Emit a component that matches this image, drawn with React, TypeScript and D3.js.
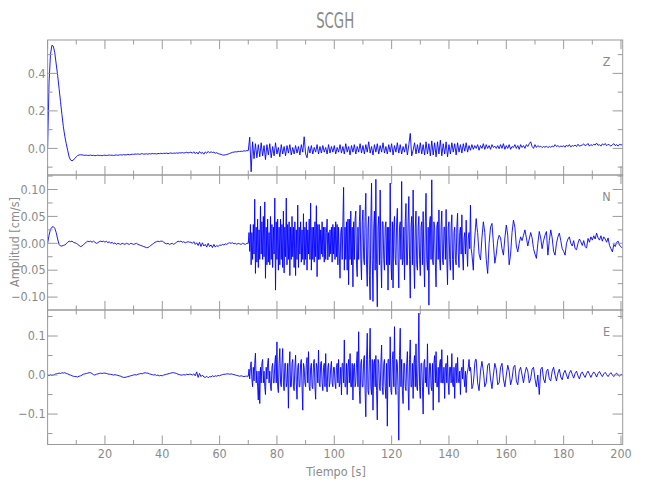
import React from 'react';
import * as d3 from 'd3';

// ---- Data (cm/s). Each trace is stored in segments with their own start time and sample step ----
const STATION = 'SCGH';
const X_LABEL = 'Tiempo [s]';
const Y_LABEL = 'Amplitud [cm/s]';

// Z: 0–69.5 s (step 0.5)
const zPre = [
  0.0, 0.35, 0.5, 0.55, 0.545, 0.51, 0.45, 0.39, 0.32, 0.25,
  0.18, 0.115, 0.065, 0.025, -0.01, -0.045, -0.062, -0.066, -0.062, -0.053,
  -0.045, -0.038, -0.035, -0.034, -0.035, -0.036, -0.037, -0.036, -0.038, -0.037,
  -0.036, -0.038, -0.037, -0.039, -0.038, -0.036, -0.038, -0.037, -0.039, -0.037,
  -0.036, -0.038, -0.037, -0.035, -0.037, -0.036, -0.038, -0.036, -0.035, -0.037,
  -0.035, -0.034, -0.036, -0.033, -0.035, -0.034, -0.032, -0.034, -0.033, -0.031,
  -0.032, -0.03, -0.031, -0.029, -0.032, -0.03, -0.028, -0.031, -0.03, -0.029,
  -0.031, -0.028, -0.03, -0.027, -0.029, -0.028, -0.03, -0.027, -0.028, -0.026,
  -0.028, -0.026, -0.027, -0.025, -0.028, -0.026, -0.024, -0.027, -0.025, -0.026,
  -0.024, -0.026, -0.023, -0.025, -0.022, -0.025, -0.023, -0.021, -0.024, -0.022,
  -0.02, -0.026, -0.018, -0.028, -0.02, -0.03, -0.017, -0.027, -0.021, -0.031,
  -0.019, -0.026, -0.016, -0.024, -0.018, -0.022, -0.02, -0.026, -0.023, -0.028,
  -0.03, -0.032, -0.035, -0.036, -0.034, -0.033, -0.03, -0.027, -0.024, -0.021,
  -0.02, -0.018, -0.019, -0.016, -0.017, -0.015, -0.016, -0.013, -0.014, -0.012,
];
// Z: 70–200.5 s (step 0.5)
const zPost = [
  -0.012, 0.06, -0.125, 0.035, -0.055, 0.025, -0.05, 0.02, -0.045, 0.03,
  -0.04, 0.015, -0.06, 0.02, -0.035, 0.025, -0.05, 0.01, -0.04, 0.03,
  -0.03, 0.005, -0.045, 0.02, -0.03, 0.01, -0.04, 0.015, -0.025, 0.02,
  -0.035, 0.005, -0.03, 0.015, -0.025, 0.01, -0.035, 0.02, -0.02, 0.062,
  -0.03, -0.05, 0.01, -0.025, 0.015, -0.03, 0.005, -0.02, 0.02, -0.03,
  0.01, -0.025, 0.015, -0.02, 0.005, -0.03, 0.02, -0.025, 0.01, -0.02,
  0.015, -0.03, 0.005, -0.02, 0.02, -0.025, 0.01, -0.03, 0.025, -0.02,
  0.01, -0.035, 0.015, -0.02, 0.02, -0.03, 0.01, -0.02, 0.025, -0.025,
  0.015, -0.03, 0.02, -0.02, 0.035, -0.025, 0.01, -0.035, 0.02, -0.02,
  0.025, -0.03, 0.015, -0.02, 0.03, -0.025, 0.01, -0.03, 0.02, -0.02,
  0.025, -0.035, 0.015, -0.02, 0.03, -0.025, 0.02, -0.03, 0.01, -0.02,
  0.025, -0.035, 0.02, 0.08, -0.04, -0.01, 0.03, -0.03, 0.02, -0.025,
  0.03, -0.03, 0.02, -0.035, 0.035, -0.03, 0.025, -0.04, 0.04, -0.035,
  0.03, -0.045, 0.035, -0.03, 0.044, -0.04, 0.025, -0.03, 0.035, -0.045,
  0.02, -0.03, 0.03, -0.02, 0.025, -0.035, 0.03, -0.02, 0.02, -0.025,
  0.025, -0.015, 0.03, -0.02, 0.015, -0.01, 0.02, -0.005, 0.015, 0.0,
  0.02, -0.01, 0.015, 0.0, 0.025, -0.005, 0.02, 0.0, 0.015, -0.005,
  0.02, 0.005, 0.012, 0.0, 0.015, -0.002, 0.02, 0.0, 0.025, -0.005,
  0.015, 0.0, 0.02, -0.005, 0.01, 0.005, 0.02, 0.0, 0.015, -0.005,
  0.02, 0.005, 0.015, 0.0, 0.02, 0.01, 0.025, 0.035, 0.01, 0.0,
  0.02, 0.005, 0.015, 0.008, 0.012, 0.004, 0.01, 0.006, 0.012, 0.004,
  0.01, 0.006, 0.012, 0.008, 0.02, 0.01, 0.015, 0.008, 0.012, 0.01,
  0.014, 0.006, 0.018, 0.01, 0.02, 0.008, 0.015, 0.012, 0.018, 0.01,
  0.022, 0.012, 0.015, 0.018, 0.024, 0.014, 0.018, 0.026, 0.012, 0.02,
  0.015, 0.022, 0.018, 0.028, 0.016, 0.02, 0.012, 0.024, 0.018, 0.026,
  0.014, 0.022, 0.018, 0.012, 0.02, 0.025, 0.015, 0.02, 0.012, 0.022,
  0.018, 0.02,
];

// N: 0–69.5 s (step 0.5)
const nPre = [
  0.0, 0.015, 0.026, 0.03, 0.031, 0.028, 0.02, 0.008, -0.002, -0.005,
  -0.005, -0.004, -0.003, -0.001, 0.002, 0.004, 0.003, 0.004, 0.002, 0.001,
  0.0, -0.002, -0.004, -0.006, -0.005, -0.003, 0.0, 0.002, 0.004, 0.003,
  0.004, 0.002, 0.004, 0.002, 0.0, 0.001, 0.003, 0.004, 0.003, 0.004,
  0.002, 0.004, 0.001, 0.003, 0.0, 0.002, -0.001, 0.001, -0.002, 0.0,
  -0.001, -0.002, 0.0, -0.001, -0.002, 0.0, -0.001, -0.002, 0.0, -0.001,
  -0.002, -0.001, 0.0, -0.002, -0.003, -0.004, -0.005, -0.006, -0.007, -0.008,
  -0.008, -0.006, -0.004, -0.002, 0.0, 0.002, 0.003, 0.004, 0.003, 0.004,
  0.004, 0.002, 0.0, -0.001, 0.0, -0.002, -0.001, 0.0, -0.002, 0.0,
  0.002, 0.004, 0.003, 0.004, 0.002, 0.003, 0.001, 0.002, 0.003, 0.002,
  0.002, 0.0, 0.003, -0.002, 0.001, -0.004, 0.002, -0.006, 0.001, -0.005,
  -0.002, -0.007, 0.0, -0.006, -0.003, -0.008, -0.002, -0.007, -0.004, -0.006,
  -0.003, -0.004, -0.002, -0.003, -0.001, -0.002, 0.0, 0.001, 0.0, 0.001,
  -0.001, 0.0, -0.002, 0.0, -0.001, -0.002, 0.0, -0.001, -0.002, 0.0,
];
// N: 70–149.75 s (step 0.25)
const nStrong = [
  0.0, 0.02, -0.015, 0.035, -0.04, 0.02, -0.03, 0.035, -0.02, 0.082,
  -0.056, 0.03, -0.035, 0.045, -0.045, 0.025, -0.03, 0.069, -0.02, 0.04,
  -0.03, 0.05, -0.025, 0.077, -0.065, 0.03, -0.04, 0.045, -0.035, 0.02,
  -0.04, 0.05, -0.03, 0.035, -0.045, 0.03, -0.02, 0.084, -0.087, 0.04,
  -0.03, 0.045, -0.05, 0.03, -0.04, 0.045, -0.03, 0.035, -0.045, 0.06,
  -0.055, 0.03, -0.025, 0.084, -0.04, 0.035, -0.03, 0.04, -0.06, 0.03,
  -0.03, 0.05, -0.025, 0.03, -0.045, 0.04, -0.06, 0.025, -0.03, 0.071,
  -0.045, 0.03, -0.02, 0.04, -0.035, 0.025, -0.03, 0.055, -0.04, 0.03,
  -0.03, 0.04, -0.05, 0.025, -0.02, 0.045, -0.03, 0.075, -0.05, 0.03,
  -0.03, 0.03, -0.035, 0.04, -0.025, 0.07, -0.062, 0.035, -0.03, 0.035,
  -0.03, 0.025, -0.02, 0.04, -0.025, 0.03, -0.035, 0.03, -0.03, 0.02,
  0.045, -0.031, 0.02, -0.025, 0.025, -0.02, 0.03, -0.035, 0.035, -0.02,
  0.03, -0.03, 0.04, -0.025, 0.035, -0.04, 0.03, -0.02, -0.065, 0.02,
  0.03, -0.03, 0.04, 0.104, -0.05, 0.03, -0.03, 0.04, -0.05, 0.045,
  -0.077, 0.045, -0.03, 0.06, -0.04, 0.03, -0.081, 0.04, -0.03, 0.045,
  0.06, -0.04, -0.062, 0.03, -0.03, 0.04, 0.071, -0.03, -0.068, 0.04,
  0.062, -0.03, -0.04, 0.05, 0.093, -0.04, -0.08, 0.03, 0.05, -0.06,
  -0.105, 0.04, 0.112, -0.03, -0.108, 0.03, 0.06, -0.05, 0.119, -0.04,
  -0.118, 0.03, 0.05, -0.04, 0.099, -0.03, -0.083, 0.04, 0.04, -0.03,
  -0.05, 0.03, 0.04, -0.04, 0.03, -0.087, 0.03, -0.04, 0.112, -0.03,
  -0.068, 0.04, -0.083, 0.03, 0.05, -0.03, -0.04, 0.04, 0.065, -0.03,
  -0.083, 0.03, 0.04, -0.03, 0.115, -0.04, -0.03, 0.03, -0.068, 0.04,
  0.074, -0.04, -0.04, 0.04, 0.087, -0.03, -0.102, 0.03, 0.05, -0.04,
  0.099, -0.03, -0.084, 0.03, 0.06, -0.04, -0.05, 0.03, 0.05, -0.03,
  -0.06, 0.03, 0.04, -0.04, 0.059, -0.03, -0.081, 0.04, 0.093, -0.03,
  -0.05, 0.03, -0.115, 0.04, 0.05, -0.03, 0.118, -0.03, -0.04, 0.04,
  0.03, -0.04, -0.081, 0.03, 0.04, -0.03, 0.062, -0.03, -0.05, 0.03,
  0.06, -0.03, -0.04, 0.03, 0.03, -0.03, 0.063, -0.03, -0.077, 0.03,
  0.04, -0.03, -0.05, 0.03, 0.053, -0.03, -0.068, 0.02, 0.03, -0.03,
  -0.04, 0.03, 0.056, -0.02, -0.045, 0.02, 0.03, -0.02, 0.053, -0.02,
  -0.05, 0.01, 0.02, -0.02, 0.043, -0.01, -0.043, 0.01, 0.02, -0.01,
  0.071, -0.01, -0.02, -0.035, -0.05, -0.01, 0.01, 0.03, 0.046, 0.03,
];
// N: 150–200.5 s (step 0.5)
const nCoda = [
  0.02, -0.02, -0.031, 0.01, 0.04, 0.02, -0.03, -0.056, 0.0, 0.03,
  0.037, 0.0, -0.037, -0.02, 0.005, 0.015, 0.01, -0.01, -0.022, 0.01,
  0.034, 0.015, -0.04, -0.02, 0.02, 0.043, 0.03, -0.005, -0.016, 0.0,
  0.012, 0.005, 0.015, 0.025, 0.01, -0.005, 0.008, 0.02, 0.01, -0.01,
  -0.02, -0.028, 0.0, 0.022, 0.01, -0.01, 0.005, 0.015, 0.022, -0.022,
  0.005, 0.025, 0.01, -0.015, -0.022, 0.0, 0.012, 0.019, 0.005, -0.01,
  -0.015, -0.022, 0.0, 0.008, 0.012, 0.0, -0.005, 0.005, -0.01, -0.012,
  0.0, 0.008, 0.003, -0.004, 0.005, -0.006, -0.009, 0.009, 0.002, 0.012,
  0.006, 0.014, 0.008, 0.019, 0.01, 0.006, 0.014, 0.004, 0.012, 0.008,
  0.002, 0.01, -0.004, -0.01, -0.016, -0.002, -0.006, 0.002, 0.004, -0.004,
  -0.006, -0.009,
];

// E: 0–69.5 s (step 0.5)
const ePre = [
  0.0, -0.002, 0.001, -0.001, 0.0, 0.002, 0.003, 0.004, 0.005, 0.004,
  0.006, 0.005, 0.006, 0.004, 0.003, 0.001, 0.0, -0.002, -0.003, -0.004,
  -0.004, -0.005, -0.003, -0.002, 0.0, 0.002, 0.003, 0.004, 0.005, 0.006,
  0.006, 0.004, 0.001, 0.0, 0.002, 0.003, 0.004, 0.005, 0.004, 0.005,
  0.005, 0.004, 0.003, 0.002, 0.002, 0.001, 0.0, 0.001, 0.0, -0.001,
  -0.002, -0.003, -0.005, -0.006, -0.006, -0.005, -0.004, -0.003, -0.002, -0.001,
  0.0, 0.001, 0.0, 0.002, 0.003, 0.004, 0.003, 0.005, 0.006, 0.005,
  0.005, 0.003, 0.002, 0.001, 0.0, 0.001, -0.001, 0.0, -0.002, -0.001,
  -0.002, 0.0, 0.001, 0.002, 0.003, 0.004, 0.005, 0.006, 0.006, 0.005,
  0.004, 0.002, 0.001, 0.0, 0.0, 0.001, 0.0, 0.002, 0.001, 0.002,
  0.002, 0.0, 0.003, -0.002, 0.008, -0.006, 0.004, -0.004, 0.0, -0.005,
  -0.006, -0.003, -0.007, -0.004, -0.005, -0.002, -0.004, -0.002, -0.003, -0.001,
  -0.002, 0.0, 0.001, 0.002, 0.002, 0.003, 0.003, 0.002, 0.003, 0.002,
  0.001, 0.0, -0.001, -0.002, -0.003, -0.002, -0.003, -0.004, -0.003, -0.003,
];
// E: 70–149.75 s (step 0.25)
const eStrong = [
  -0.003, 0.015, -0.01, 0.02, 0.034, -0.01, -0.03, 0.02, -0.015, 0.03,
  0.056, -0.02, 0.01, -0.03, -0.064, 0.01, -0.073, 0.02, -0.02, 0.03,
  0.04, -0.02, 0.01, -0.03, -0.05, 0.02, -0.01, 0.03, 0.043, -0.02,
  0.01, -0.03, -0.04, 0.02, 0.03, -0.02, -0.02, 0.03, 0.05, -0.02,
  0.085, -0.03, -0.045, 0.03, 0.068, -0.02, -0.03, 0.03, 0.068, -0.02,
  -0.04, 0.03, 0.03, -0.03, -0.02, 0.03, -0.085, 0.02, 0.06, -0.03,
  -0.03, 0.03, 0.04, -0.03, -0.04, 0.02, 0.051, -0.02, -0.062, 0.02,
  0.03, -0.03, -0.03, 0.03, 0.04, -0.03, -0.09, 0.03, 0.02, -0.02,
  -0.03, 0.03, 0.045, -0.02, 0.06, -0.03, -0.04, 0.02, 0.03, -0.03,
  -0.035, 0.03, 0.04, -0.03, -0.062, 0.03, 0.02, -0.02, 0.064, -0.02,
  -0.03, 0.03, 0.035, -0.02, -0.04, 0.02, 0.03, -0.03, 0.055, -0.02,
  -0.043, 0.02, 0.03, -0.03, -0.02, 0.02, 0.035, -0.02, -0.03, 0.02,
  0.02, -0.02, -0.035, 0.02, 0.03, -0.02, 0.04, -0.03, -0.02, 0.02,
  -0.051, 0.03, 0.03, -0.02, 0.09, -0.03, -0.03, 0.03, -0.05, 0.02,
  0.04, -0.02, 0.055, -0.03, -0.03, 0.03, -0.064, 0.02, 0.03, -0.03,
  -0.02, 0.03, 0.06, -0.03, 0.111, -0.04, -0.073, 0.03, 0.04, -0.03,
  -0.03, 0.04, 0.05, -0.04, -0.107, 0.04, 0.107, -0.04, -0.05, 0.04,
  0.12, -0.03, -0.05, 0.04, -0.09, 0.03, 0.04, -0.03, 0.05, -0.04,
  -0.115, 0.04, 0.03, -0.03, -0.04, 0.03, 0.077, -0.03, -0.05, 0.03,
  0.04, -0.03, -0.06, 0.03, -0.131, 0.04, 0.04, -0.03, 0.098, -0.04,
  -0.05, 0.04, 0.06, -0.03, 0.124, -0.03, -0.05, 0.04, 0.03, -0.04,
  -0.167, 0.05, 0.12, -0.03, 0.04, -0.04, -0.073, 0.03, 0.03, -0.03,
  -0.04, 0.03, 0.06, -0.03, -0.09, 0.04, 0.09, -0.03, -0.03, 0.03,
  -0.06, 0.03, 0.05, -0.03, 0.08, -0.03, -0.04, 0.03, 0.159, -0.03,
  -0.06, 0.03, 0.03, -0.03, -0.1, 0.03, 0.04, -0.02, 0.02, -0.03,
  0.08, -0.03, -0.05, 0.03, 0.03, -0.03, -0.04, 0.03, -0.09, 0.03,
  0.05, -0.02, 0.06, -0.03, -0.03, 0.02, -0.07, 0.03, 0.04, -0.02,
  0.065, -0.02, -0.02, 0.02, -0.06, 0.02, 0.03, -0.02, 0.05, -0.02,
  -0.05, 0.02, 0.02, -0.02, 0.055, -0.02, -0.03, 0.02, -0.06, 0.02,
  0.03, -0.02, 0.045, -0.01, -0.02, 0.01, -0.05, 0.01, 0.02, -0.01,
  0.04, -0.01, -0.03, 0.01, -0.045, 0.0, 0.01, 0.02, 0.04, 0.01,
  0.02, 0.0, -0.035, -0.03, -0.02, 0.0, 0.03, 0.04, 0.04, 0.01,
];
// E: 150–200.5 s (step 0.5)
const eCoda = [
  -0.02, -0.04, 0.01, 0.035, 0.01, -0.03, -0.02, 0.025, 0.03, -0.01,
  -0.035, 0.0, 0.03, 0.015, -0.025, -0.02, 0.02, 0.03, -0.01, -0.03,
  0.0, 0.025, 0.01, -0.025, -0.01, 0.02, 0.025, -0.015, -0.025, 0.01,
  0.02, 0.0, -0.02, 0.005, 0.02, 0.01, -0.02, -0.01, 0.015, 0.02,
  -0.01, -0.03, 0.0, -0.05, 0.015, 0.02, -0.01, -0.02, 0.01, 0.015,
  -0.01, -0.015, 0.01, 0.02, 0.0, -0.015, 0.005, 0.015, -0.005, -0.012,
  0.005, 0.012, 0.0, -0.01, 0.005, 0.012, 0.002, -0.008, 0.004, 0.01,
  -0.002, -0.01, 0.003, 0.008, 0.0, -0.006, 0.004, 0.01, 0.002, -0.006,
  0.002, 0.008, 0.003, -0.005, 0.004, 0.009, 0.002, -0.004, 0.003, 0.007,
  0.001, -0.004, 0.002, 0.006, 0.0, -0.004, 0.002, 0.005, 0.0, -0.003,
  0.002, 0.0,
];

const xMajorTicks = [0, 20, 40, 60, 80, 100, 120, 140, 160, 180, 200];
const xMinorTicks = [10, 30, 50, 70, 90, 110, 130, 150, 170, 190];
const xTickLabels = ['', '20', '40', '60', '80', '100', '120', '140', '160', '180', '200'];

const zMajor = [0.0, 0.2, 0.4];
const zMinor = [-0.1, 0.1, 0.3, 0.5];
const zLabels = ['0.0', '0.2', '0.4'];
const nMajor = [-0.1, -0.05, 0.0, 0.05, 0.1];
const nMinor = [-0.125, -0.075, -0.025, 0.025, 0.075, 0.125];
const nLabels = ['\u22120.10', '\u22120.05', '0.00', '0.05', '0.10'];
const eMajor = [-0.1, 0.0, 0.1];
const eMinor = [-0.15, -0.05, 0.05, 0.15];
const eLabels = ['\u22120.1', '0.0', '0.1'];

const FONT = "'Liberation Sans Narrow', 'DejaVu Sans Condensed', 'Arial Narrow', sans-serif";
const AXIS = '#9a9a9a';
const TEXT = '#8a8a8a';

type Seg = { start: number; step: number; values: number[] };

function toPoints(segs: Seg[]): [number, number][] {
  const pts: [number, number][] = [];
  segs.forEach((s) => s.values.forEach((v, i) => pts.push([s.start + i * s.step, v])));
  return pts;
}

export default function App() {
  const left = 47.6;
  const right = 622.7;
  const x = d3.scaleLinear().domain([0, 200.6]).range([left, right]);

  const panels = [
    {
      name: 'Z',
      segs: [{ start: 0, step: 0.5, values: zPre }, { start: 70, step: 0.5, values: zPost }],
      domain: [-0.142, 0.578], top: 40, bottom: 175, major: zMajor, minor: zMinor, labels: zLabels,
    },
    {
      name: 'N',
      segs: [{ start: 0, step: 0.5, values: nPre }, { start: 70, step: 0.25, values: nStrong }, { start: 150, step: 0.5, values: nCoda }],
      domain: [-0.124, 0.127], top: 175, bottom: 310, major: nMajor, minor: nMinor, labels: nLabels,
    },
    {
      name: 'E',
      segs: [{ start: 0, step: 0.5, values: ePre }, { start: 70, step: 0.25, values: eStrong }, { start: 150, step: 0.5, values: eCoda }],
      domain: [-0.178, 0.1667], top: 310, bottom: 444.5, major: eMajor, minor: eMinor, labels: eLabels,
    },
  ];

  return (
    <svg width={650} height={500} style={{ position: 'absolute', left: 0, top: 0, display: 'block', background: '#fff' }} fontFamily={FONT}>
      <text x={(left + right) / 2} y={28.3} textAnchor="middle" fontSize={21} fill={TEXT} textLength={38} lengthAdjust="spacingAndGlyphs">{STATION}</text>
      {panels.map((p, pi) => {
        const y = d3.scaleLinear().domain(p.domain).range([p.bottom, p.top]);
        const pts = toPoints(p.segs);
        const line = d3.line<[number, number]>().x((d) => x(d[0])).y((d) => y(d[1]));
        const clipId = `clip-${p.name}`;
        return (
          <g key={p.name}>
            <defs>
              <clipPath id={clipId}>
                <rect x={left} y={p.top} width={right - left} height={p.bottom - p.top} />
              </clipPath>
            </defs>
            <path d={line(pts) || ''} fill="none" stroke="#0000ff" strokeWidth={0.9} strokeLinejoin="round" clipPath={`url(#${clipId})`} />
            <rect x={left} y={p.top} width={right - left} height={p.bottom - p.top} fill="none" stroke={AXIS} strokeWidth={1} />
            {xMajorTicks.map((t) => (
              <g key={`xM${t}`}>
                <line x1={x(t)} x2={x(t)} y1={p.bottom} y2={p.bottom - 9} stroke={AXIS} />
                <line x1={x(t)} x2={x(t)} y1={p.top} y2={p.top + 9} stroke={AXIS} />
              </g>
            ))}
            {xMinorTicks.map((t) => (
              <g key={`xm${t}`}>
                <line x1={x(t)} x2={x(t)} y1={p.bottom} y2={p.bottom - 4.5} stroke={AXIS} />
                <line x1={x(t)} x2={x(t)} y1={p.top} y2={p.top + 4.5} stroke={AXIS} />
              </g>
            ))}
            {p.major.map((v, i) => (
              <g key={`yM${v}`}>
                <line x1={left} x2={left + 10} y1={y(v)} y2={y(v)} stroke={AXIS} />
                <line x1={right} x2={right - 10} y1={y(v)} y2={y(v)} stroke={AXIS} />
                <text x={left - 2} y={y(v) + 4.3} textAnchor="end" fontSize={12.5} fill={TEXT}>{p.labels[i]}</text>
              </g>
            ))}
            {p.minor.filter((v) => y(v) > p.top + 1 && y(v) < p.bottom - 1).map((v) => (
              <g key={`ym${v}`}>
                <line x1={left} x2={left + 5} y1={y(v)} y2={y(v)} stroke={AXIS} />
                <line x1={right} x2={right - 5} y1={y(v)} y2={y(v)} stroke={AXIS} />
              </g>
            ))}
            <text x={606.5} y={p.top + 25.7} textAnchor="middle" fontSize={12.5} fill={TEXT}>{p.name}</text>
            {pi === 2 && xMajorTicks.map((t, i) => (
              <text key={`xl${t}`} x={x(t)} y={458.3} textAnchor="middle" fontSize={12.5} fill={TEXT}>{xTickLabels[i]}</text>
            ))}
          </g>
        );
      })}
      <text x={336} y={476} textAnchor="middle" fontSize={12.5} fill={TEXT}>{X_LABEL}</text>
      <text transform="translate(18.5,242) rotate(-90)" textAnchor="middle" fontSize={12.5} fill={TEXT}>{Y_LABEL}</text>
    </svg>
  );
}
